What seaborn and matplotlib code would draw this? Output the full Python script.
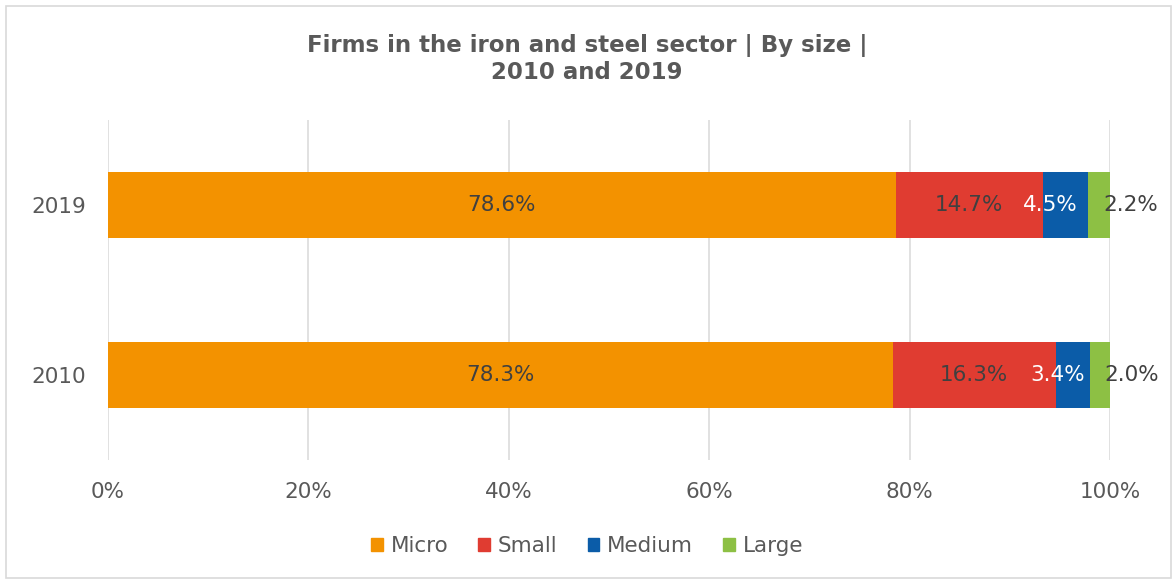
import matplotlib
matplotlib.use("Agg")
import matplotlib.pyplot as plt
from matplotlib.patches import Rectangle
import numpy as np
import pandas as pd
import seaborn as sns

# Share of firms by size class (%)
years = ["2019", "2010"]
sizes = ["Micro", "Small", "Medium", "Large"]
micro = [78.6, 78.3]
small = [14.7, 16.3]
medium = [4.5, 3.4]
large = [2.2, 2.0]

colors = {"Micro": "#F39200", "Small": "#E03C31", "Medium": "#0B5CA8", "Large": "#8DC044"}
label_colors = {"Micro": "#404040", "Small": "#404040", "Medium": "#FFFFFF", "Large": "#404040"}
# horizontal nudge of value labels, in pixels
label_shift = {"Micro": 0, "Small": 0, "Medium": -15, "Large": 32}

sns.set_theme(style="white")
plt.rcParams["font.family"] = ["DejaVu Sans"]

FS = 15.5
TXT = "#595959"

fig = plt.figure(figsize=(11.74, 5.83), dpi=100)
ax = fig.add_axes([108 / 1174, 1 - 460 / 583, 1002 / 1174, 340 / 583])

df = pd.DataFrame({"Year": years, "Micro": micro, "Small": small,
                   "Medium": medium, "Large": large})

# cumulative right edges of each stacked segment
cum = df[sizes].cumsum(axis=1)
starts = cum - df[sizes]

# draw widest cumulative bar first so each shorter one sits on top
for s in reversed(sizes):
    sns.barplot(x=cum[s], y=df["Year"], color=colors[s], ax=ax,
                width=0.394, saturation=1, orient="h", linewidth=0)

for s in sizes:
    for i in range(len(years)):
        v = df[s].iloc[i]
        x0 = starts[s].iloc[i]
        ax.annotate(f"{v:.1f}%", xy=(x0 + v / 2, i),
                    xytext=(label_shift[s] * 0.72, 0), textcoords="offset points",
                    ha="center", va="center", fontsize=FS,
                    color=label_colors[s], zorder=10)

ax.set_xlim(0, 100)
ax.set_ylim(1.5, -0.5)
ax.set_xticks(np.arange(0, 101, 20))
ax.set_xticklabels([f"{t}%" for t in range(0, 101, 20)])
ax.xaxis.grid(True, color="#D9D9D9", linewidth=1.1)
ax.set_axisbelow(True)
for sp in ax.spines.values():
    sp.set_visible(False)
ax.tick_params(axis="both", length=0, labelsize=FS, labelcolor=TXT)
ax.tick_params(axis="x", pad=16)
ax.tick_params(axis="y", pad=16)
ax.set_xlabel("")
ax.set_ylabel("")

# Title
fig.text(0.5, 1 - 59 / 583, "Firms in the iron and steel sector | By size |\n2010 and 2019",
         ha="center", va="center", fontsize=16.5, fontweight="bold", color=TXT,
         linespacing=1.25)

# Legend
handles = [Rectangle((0, 0), 1, 1, color=colors[s]) for s in sizes]
fig.legend(handles, sizes, loc="center", bbox_to_anchor=(0.5, 1 - 546 / 583), ncol=4,
           frameon=False, fontsize=FS, handlelength=0.55, handleheight=0.55,
           handletextpad=0.35, columnspacing=1.4, labelcolor=TXT)

# Chart border
fig.patches.append(Rectangle((6 / 1174, 5 / 583), 1165 / 1174, 572 / 583,
                             transform=fig.transFigure, fill=False,
                             edgecolor="#D9D9D9", linewidth=1.2))

fig.savefig("out.png", dpi=100, facecolor="white")
